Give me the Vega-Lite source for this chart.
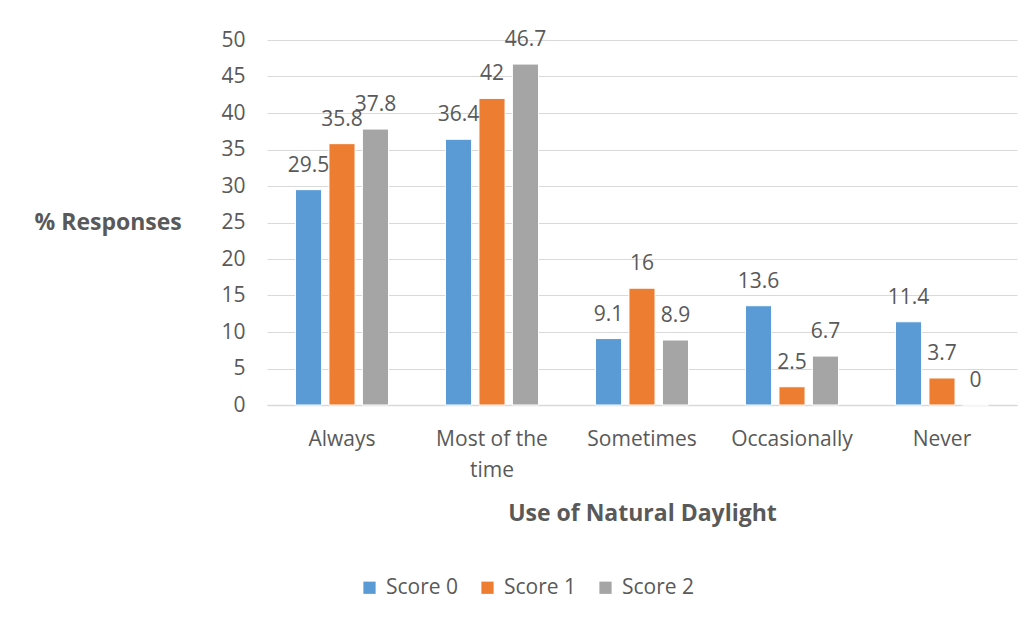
{
  "$schema": "https://vega.github.io/schema/vega-lite/v6.json",
  "width": 750,
  "height": 365,
  "autosize": {"type": "none"},
  "padding": {"left": 267, "top": 40, "right": 19, "bottom": 218},
  "background": "white",
  "config": {
    "font": "Open Sans",
    "view": {"stroke": null},
    "axis": {"labelColor": "#595959", "titleColor": "#595959", "labelFont": "Open Sans", "titleFont": "Open Sans"}
  },
  "data": {
    "values": [
      {"category": "Always", "score": "Score 0", "value": 29.5},
      {"category": "Always", "score": "Score 1", "value": 35.8},
      {"category": "Always", "score": "Score 2", "value": 37.8},
      {"category": "Most of the time", "score": "Score 0", "value": 36.4},
      {"category": "Most of the time", "score": "Score 1", "value": 42},
      {"category": "Most of the time", "score": "Score 2", "value": 46.7},
      {"category": "Sometimes", "score": "Score 0", "value": 9.1},
      {"category": "Sometimes", "score": "Score 1", "value": 16},
      {"category": "Sometimes", "score": "Score 2", "value": 8.9},
      {"category": "Occasionally", "score": "Score 0", "value": 13.6},
      {"category": "Occasionally", "score": "Score 1", "value": 2.5},
      {"category": "Occasionally", "score": "Score 2", "value": 6.7},
      {"category": "Never", "score": "Score 0", "value": 11.4},
      {"category": "Never", "score": "Score 1", "value": 3.7},
      {"category": "Never", "score": "Score 2", "value": 0}
    ]
  },
  "encoding": {
    "x": {
      "field": "category", "type": "nominal", "sort": null,
      "scale": {"paddingInner": 0.38, "paddingOuter": 0.19},
      "axis": {
        "title": "Use of Natural Daylight", "labelAngle": 0, "labelFontSize": 21,
        "labelPadding": 23, "labelLineHeight": 31,
        "labelExpr": "datum.value == 'Most of the time' ? ['Most of the', 'time'] : datum.value",
        "domainColor": "#d9d9d9", "domainWidth": 1.5, "ticks": false,
        "titleFontSize": 23, "titleFontWeight": "bold", "titlePadding": 22
      }
    },
    "xOffset": {"field": "score", "type": "nominal", "scale": {"paddingInner": 0.22}},
    "y": {
      "field": "value", "type": "quantitative",
      "scale": {"domain": [0, 50]},
      "axis": {
        "title": "% Responses", "titleAngle": 0, "titleAlign": "left", "titleBaseline": "middle",
        "titleX": -233, "titleY": 182, "titleFontSize": 23, "titleFontWeight": "bold",
        "values": [0, 5, 10, 15, 20, 25, 30, 35, 40, 45, 50],
        "labelFontSize": 21, "labelPadding": 22, "domain": false, "ticks": false,
        "gridColor": "#d9d9d9", "gridWidth": 1
      }
    }
  },
  "layer": [
    {
      "mark": {"type": "bar", "stroke": "white", "strokeWidth": 1},
      "encoding": {
        "color": {
          "field": "score", "type": "nominal",
          "scale": {"domain": ["Score 0", "Score 1", "Score 2"], "range": ["#5B9BD5", "#ED7D31", "#A5A5A5"]},
          "legend": {
            "title": null, "orient": "none", "direction": "horizontal",
            "legendX": 92, "legendY": 537,
            "symbolType": "square", "symbolSize": 150, "symbolStrokeWidth": 0,
            "labelFontSize": 21, "labelColor": "#595959", "labelFont": "Open Sans",
            "columnPadding": 18, "labelOffset": 6
          }
        }
      }
    },
    {
      "mark": {"type": "text", "baseline": "alphabetic", "dy": -18, "fontSize": 21, "color": "#595959"},
      "encoding": {"text": {"field": "value", "type": "quantitative"}}
    }
  ]
}
